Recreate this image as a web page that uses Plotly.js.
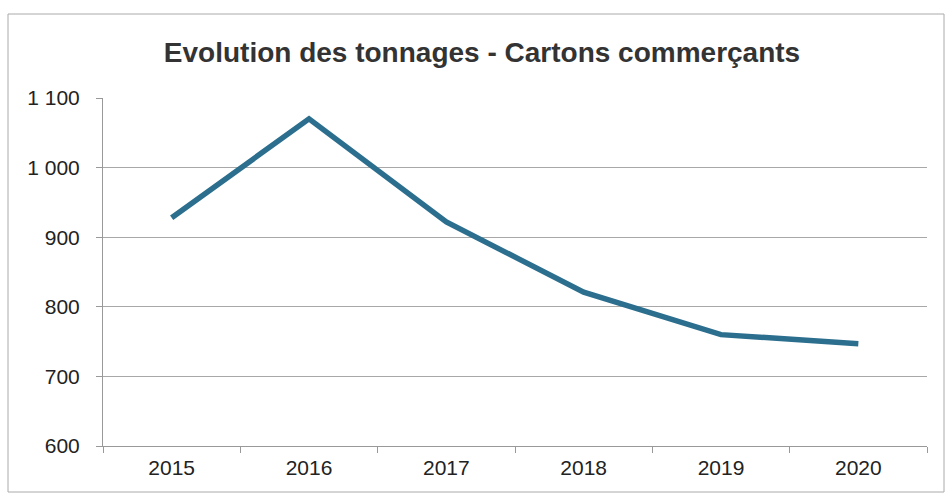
<!DOCTYPE html>
<html><head><meta charset="utf-8">
<script src="https://cdn.plot.ly/plotly-3.0.1.min.js"></script>
<style>html,body{margin:0;padding:0;background:#fff}#c{width:947px;height:497px}</style>
</head><body><div id="c"></div>
<script>
const years = ['2015','2016','2017','2018','2019','2020'];
const tonnages = [928, 1070, 922, 821, 760, 747];
const chartTitle = 'Evolution des tonnages - Cartons commerçants';

const L = 103, R = 20, T = 98, B = 51, W = 947, H = 497;
const pw = W - L - R, ph = H - T - B;
const px = x => (x - L) / pw;
const py = y => (H - B - y) / ph;

Plotly.newPlot('c', [{
  x: years, y: tonnages, type: 'scatter', mode: 'lines',
  line: {color: '#2b6e8e', width: 5.5}
}], {
  width: W, height: H,
  margin: {l: L, r: R, t: T, b: B},
  paper_bgcolor: '#fff', plot_bgcolor: '#fff',
  separators: ', ',
  font: {family: 'Liberation Sans, Arial, sans-serif', color: '#222'},
  title: {text: chartTitle, font: {size: 28, color: '#333', weight: 'bold'}, x: 0.509, xanchor: 'center', y: 0.895, yanchor: 'middle'},
  showlegend: false,
  xaxis: {
    type: 'category', range: [-0.5, 5.5], tickson: 'boundaries', ticks: 'outside', ticklen: 6, tickcolor: '#999',
    showline: true, linecolor: '#999', linewidth: 1, showgrid: false,
    ticklabelstandoff: 3,
    tickfont: {size: 21, color: '#222'}
  },
  yaxis: {
    range: [600, 1100], dtick: 100, tick0: 600, separatethousands: true,
    ticks: 'outside', ticklen: 6, tickcolor: '#999',
    showline: true, linecolor: '#999', linewidth: 1,
    gridcolor: '#a8a8a8', gridwidth: 1, zeroline: false,
    ticklabelstandoff: 12,
    tickfont: {size: 21, color: '#222'}
  },
  shapes: [{
    type: 'rect', xref: 'paper', yref: 'paper',
    x0: px(8), x1: px(944), y0: py(492), y1: py(14),
    line: {color: '#aaa', width: 1}
  }]
}, {displayModeBar: false, staticPlot: true});
</script></body></html>
